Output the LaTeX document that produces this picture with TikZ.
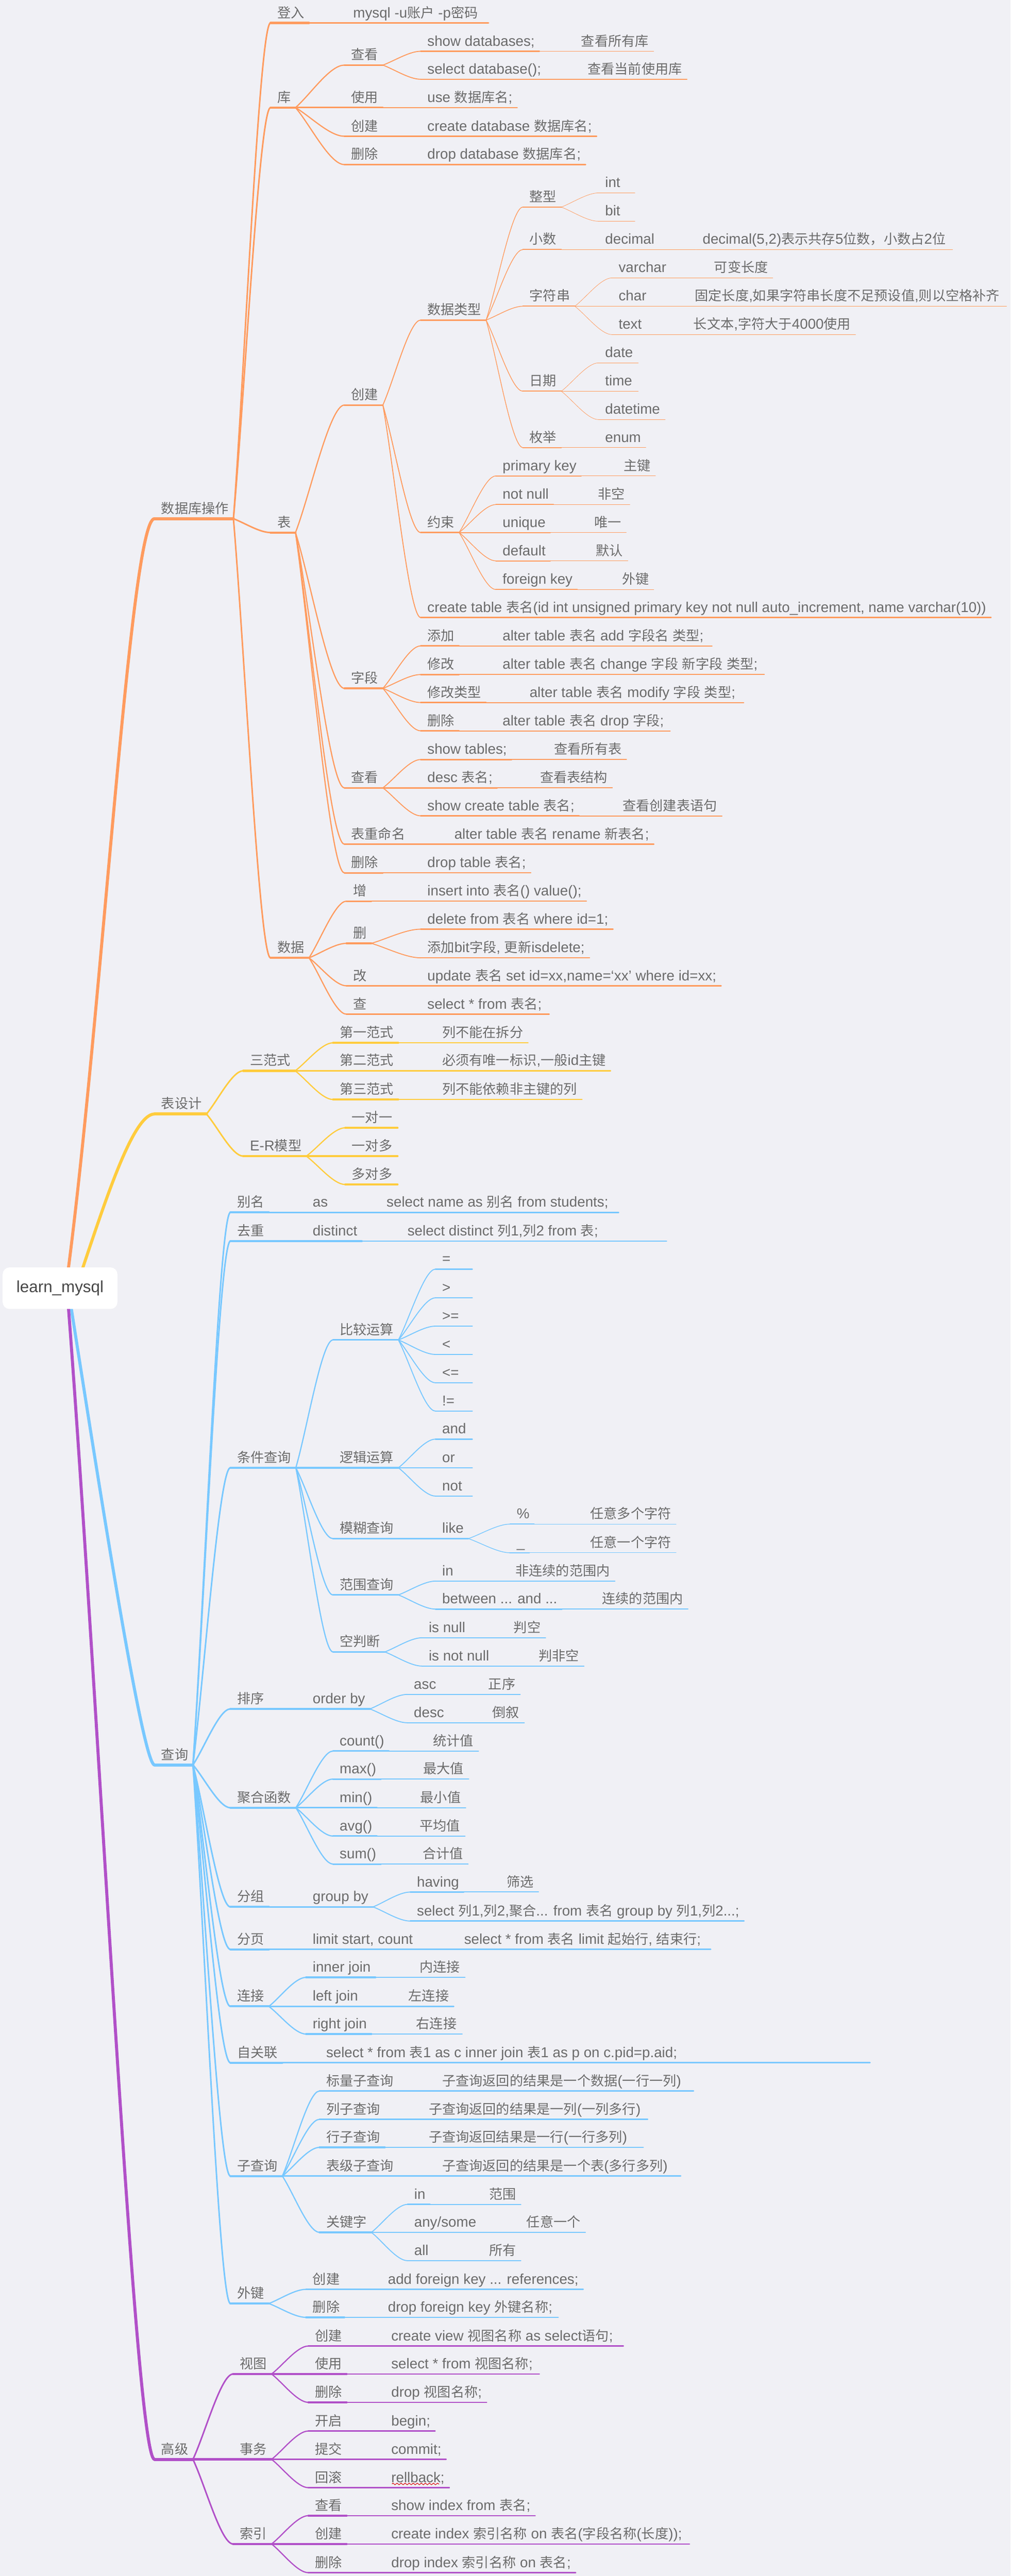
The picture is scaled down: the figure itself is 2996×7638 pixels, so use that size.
\documentclass[tikz,border=0pt]{standalone}
\usepackage{fontspec}
\setmainfont{Liberation Sans}[Scale=1.06]
\newfontfamily\cjkf{Noto Sans CJK SC}
\usetikzlibrary{calc,decorations.pathmorphing}
\XeTeXinterchartokenstate=1
\newXeTeXintercharclass\CJKcls
\newcount\ccnt
\ccnt="4E00
\loop\XeTeXcharclass\ccnt=\CJKcls\relax\advance\ccnt by 1\relax\ifnum\ccnt<"A000 \repeat
\ccnt="3000
\loop\XeTeXcharclass\ccnt=\CJKcls\relax\advance\ccnt by 1\relax\ifnum\ccnt<"3040 \repeat
\ccnt="FF00
\loop\XeTeXcharclass\ccnt=\CJKcls\relax\advance\ccnt by 1\relax\ifnum\ccnt<"FFF0 \repeat
\XeTeXinterchartoks 0 \CJKcls={\cjkf}
\XeTeXinterchartoks 4095 \CJKcls={\cjkf}
\XeTeXinterchartoks \CJKcls 0={\rmfamily}
\XeTeXinterchartoks \CJKcls 4095={\rmfamily}
\definecolor{bgc}{HTML}{F0F0F5}
\definecolor{txtc}{HTML}{6B6B6B}
\definecolor{roottxt}{HTML}{464646}
\definecolor{corange}{HTML}{FF9B5E}
\definecolor{cyellow}{HTML}{FFCC3D}
\definecolor{cblue}{HTML}{78C8FF}
\definecolor{cpurple}{HTML}{B150C8}
\colorlet{brc}{corange}
\def\La{1.6}
\def\Lb{1.25}
\def\Lc{1.0}
\def\Ld{0.75}
\def\Le{0.42}
\def\Lf{0.36}
\tikzset{
  mt/.style={anchor=south west, inner xsep=0pt, inner ysep=0pt, outer sep=0pt,
    text depth=4pt, font=\fontsize{10pt}{12pt}\selectfont, text=txtc},
  rootbox/.style={fill=white, rounded corners=5pt, minimum width=85pt,
    minimum height=30.75pt, inner sep=0pt, font=\fontsize{11.3pt}{14pt}\selectfont, text=roottxt},
  rootline/.style={draw=brc, line width=2.25pt}
}
\newcommand\nr[4]{%
  \node[mt] (#1) at (#2,#3) {#4};
  \coordinate (#1-s) at ([xshift=-5pt]#1.south west);
  \coordinate (#1-e) at ([xshift=3.5pt]#1.south east);
  \draw[brc, line width=2.25pt, line cap=round] (#1-s) -- (#1-e);}
\newcommand\nd[6]{%
  \node[mt] (#1) at (#4,#5) {#6};
  \coordinate (#1-s) at ([xshift=-5pt]#1.south west);
  \coordinate (#1-e) at ([xshift=3.5pt]#1.south east);
  \draw[brc, line width=#3pt, line cap=round] (#1-s) -- (#1-e);
  \draw[brc, line width={0.7*#3pt}] let \p1=(#2-e), \p2=(#1-s) in
    (\p1) .. controls ({\x1+0.3*(\x2-\x1)},{\y1+0.3*(\y2-\y1)}) and ({\x2-0.3*(\x2-\x1)},\y2) .. (\p2);}
\newcommand\nc[6]{%
  \node[mt] (#1) at (#4,#5) {#6};
  \coordinate (#1-s) at ([xshift=-5pt]#1.south west);
  \coordinate (#1-e) at ([xshift=3.5pt]#1.south east);
  \draw[brc, line width=#3pt, line cap=round] (#1-s) -- (#1-e);
  \draw[brc, line width=#3pt] (#2-e) -- (#1-s);}
% extend a leaf underline to the reference length
\newcommand\ext[3]{%
  \coordinate (#1-x) at (#3,0);
  \draw[brc, line width=#2pt, line cap=round] (#1-e) -- (#1-e -| #1-x);}
\begin{document}
\begin{tikzpicture}[x=0.25pt,y=-0.25pt]
\fill[bgc] (0,0) rectangle (2996,7638);
\useasboundingbox (0,0) rectangle (2996,7638);
\coordinate (rootc) at (178,3819.5);

% ---------------- orange: 数据库操作
\colorlet{brc}{corange}
\nr{db}{478}{1538}{数据库操作}
\draw[rootline] ($(rootc)+(17,0)$) .. controls (300,3050) and (385,1538) .. (db-s);
\nd{dl}{db}{\La}{822}{68}{登入}
\nc{dl1}{dl}{\Lb}{1047}{68}{mysql -u账户 -p密码}\ext{dl1}{\Lb}{1448}
\nd{dk}{db}{\La}{822}{319}{库}
\nd{dk1}{dk}{\Lb}{1041}{193}{查看}
\nd{dk1a}{dk1}{\Lc}{1267}{152}{show databases;}
\nc{dk1a1}{dk1a}{\Ld}{1723}{152}{查看所有库}\ext{dk1a1}{\Ld}{1934}
\nd{dk1b}{dk1}{\Lc}{1267}{235}{select database();}
\nc{dk1b1}{dk1b}{\Ld}{1742}{235}{查看当前使用库}\ext{dk1b1}{\Ld}{2035}
\nc{dk2}{dk}{\Lb}{1041}{319}{使用}
\nc{dk2a}{dk2}{\Lc}{1267}{319}{use 数据库名;}\ext{dk2a}{\Lc}{1528}
\nd{dk3}{dk}{\Lb}{1041}{404}{创建}
\nc{dk3a}{dk3}{\Lc}{1267}{404}{create database 数据库名;}\ext{dk3a}{\Lc}{1765}
\nd{dk4}{dk}{\Lb}{1041}{488}{删除}
\nc{dk4a}{dk4}{\Lc}{1267}{488}{drop database 数据库名;}\ext{dk4a}{\Lc}{1733}
\nd{dt}{db}{\La}{822}{1579}{表}
\nd{dt1}{dt}{\Lb}{1041}{1201}{创建}
\nd{dt1a}{dt1}{\Lc}{1267}{949}{数据类型}
\nd{ty1}{dt1a}{\Ld}{1570}{614}{整型}
\nd{ty1a}{ty1}{\Le}{1794}{572}{int}\ext{ty1a}{\Le}{1882}
\nd{ty1b}{ty1}{\Le}{1794}{656}{bit}\ext{ty1b}{\Le}{1882}
\nd{ty2}{dt1a}{\Ld}{1570}{740}{小数}
\nc{ty2a}{ty2}{\Le}{1794}{740}{decimal}
\nc{ty2b}{ty2a}{\Lf}{2083}{740}{decimal(5,2)表示共存5位数，小数占2位}\ext{ty2b}{\Lf}{2824}
\nd{ty3}{dt1a}{\Ld}{1570}{908}{字符串}
\nd{ty3a}{ty3}{\Le}{1834}{824}{varchar}
\nc{ty3a1}{ty3a}{\Lf}{2117}{824}{可变长度}\ext{ty3a1}{\Lf}{2289}
\nc{ty3b}{ty3}{\Le}{1834}{908}{char}
\nc{ty3b1}{ty3b}{\Lf}{2060}{908}{固定长度,如果字符串长度不足预设值,则以空格补齐}\ext{ty3b1}{\Lf}{2984}
\nd{ty3c}{ty3}{\Le}{1834}{992}{text}
\nc{ty3c1}{ty3c}{\Lf}{2056}{992}{长文本,字符大于4000使用}\ext{ty3c1}{\Lf}{2533}
\nd{ty4}{dt1a}{\Ld}{1570}{1160}{日期}
\nd{ty4a}{ty4}{\Le}{1794}{1076}{date}\ext{ty4a}{\Le}{1892}
\nc{ty4b}{ty4}{\Le}{1794}{1160}{time}\ext{ty4b}{\Le}{1892}
\nd{ty4c}{ty4}{\Le}{1794}{1244}{datetime}\ext{ty4c}{\Le}{1972}
\nd{ty5}{dt1a}{\Ld}{1570}{1327}{枚举}
\nc{ty5a}{ty5}{\Le}{1794}{1327}{enum}\ext{ty5a}{\Le}{1907}
\nd{dt1b}{dt1}{\Lc}{1267}{1579}{约束}
\nd{cs1}{dt1b}{\Ld}{1490}{1411}{primary key}
\nc{cs1a}{cs1}{\Le}{1849}{1411}{主键}\ext{cs1a}{\Le}{1941}
\nd{cs2}{dt1b}{\Ld}{1490}{1496}{not null}
\nc{cs2a}{cs2}{\Le}{1773}{1496}{非空}\ext{cs2a}{\Le}{1863}
\nc{cs3}{dt1b}{\Ld}{1490}{1579}{unique}
\nc{cs3a}{cs3}{\Le}{1762}{1579}{唯一}\ext{cs3a}{\Le}{1849}
\nd{cs4}{dt1b}{\Ld}{1490}{1663}{default}
\nc{cs4a}{cs4}{\Le}{1767}{1663}{默认}\ext{cs4a}{\Le}{1855}
\nd{cs5}{dt1b}{\Ld}{1490}{1748}{foreign key}
\nc{cs5a}{cs5}{\Le}{1844}{1748}{外键}\ext{cs5a}{\Le}{1934}
\nd{dt1c}{dt1}{\Lc}{1267}{1831}{create table 表名(id int unsigned primary key not null auto\_increment, name varchar(10))}\ext{dt1c}{\Lc}{2923}
\nd{dt2}{dt}{\Lb}{1041}{2041}{字段}
\nd{dt2a}{dt2}{\Lc}{1267}{1915}{添加}
\nc{dt2a1}{dt2a}{\Ld}{1490}{1915}{alter table 表名 add 字段名 类型;}\ext{dt2a1}{\Ld}{2111}
\nd{dt2b}{dt2}{\Lc}{1267}{2000}{修改}
\nc{dt2b1}{dt2b}{\Ld}{1490}{2000}{alter table 表名 change 字段 新字段 类型;}\ext{dt2b1}{\Ld}{2266}
\nd{dt2c}{dt2}{\Lc}{1267}{2083}{修改类型}
\nc{dt2c1}{dt2c}{\Ld}{1570}{2083}{alter table 表名 modify 字段 类型;}\ext{dt2c1}{\Ld}{2205}
\nd{dt2d}{dt2}{\Lc}{1267}{2167}{删除}
\nc{dt2d1}{dt2d}{\Ld}{1490}{2167}{alter table 表名 drop 字段;}\ext{dt2d1}{\Ld}{1987}
\nd{dt3}{dt}{\Lb}{1041}{2336}{查看}
\nd{dt3a}{dt3}{\Lc}{1267}{2252}{show tables;}
\nc{dt3a1}{dt3a}{\Ld}{1643}{2252}{查看所有表}\ext{dt3a1}{\Ld}{1853}
\nc{dt3b}{dt3}{\Lc}{1267}{2336}{desc 表名;}
\nc{dt3b1}{dt3b}{\Ld}{1601}{2336}{查看表结构}\ext{dt3b1}{\Ld}{1811}
\nd{dt3c}{dt3}{\Lc}{1267}{2419}{show create table 表名;}
\nc{dt3c1}{dt3c}{\Ld}{1846}{2419}{查看创建表语句}\ext{dt3c1}{\Ld}{2136}
\nd{dt4}{dt}{\Lb}{1041}{2503}{表重命名}
\nc{dt4a}{dt4}{\Lc}{1347}{2503}{alter table 表名 rename 新表名;}\ext{dt4a}{\Lc}{1935}
\nd{dt5}{dt}{\Lb}{1041}{2588}{删除}
\nc{dt5a}{dt5}{\Lc}{1267}{2588}{drop table 表名;}\ext{dt5a}{\Lc}{1570}
\nd{dd}{db}{\La}{822}{2840}{数据}
\nd{dd1}{dd}{\Lb}{1047}{2672}{增}
\nc{dd1a}{dd1}{\Lc}{1267}{2672}{insert into 表名() value();}\ext{dd1a}{\Lc}{1733}
\nd{dd2}{dd}{\Lb}{1047}{2797}{删}
\nd{dd2a}{dd2}{\Lc}{1267}{2755}{delete from 表名 where id=1;}\ext{dd2a}{\Lc}{1807}
\nd{dd2b}{dd2}{\Lc}{1267}{2840}{添加bit字段, 更新isdelete;}\ext{dd2b}{\Lc}{1746}
\nd{dd3}{dd}{\Lb}{1047}{2923}{改}
\nc{dd3a}{dd3}{\Lc}{1267}{2923}{update 表名 set id=xx,name=‘xx’ where id=xx;}\ext{dd3a}{\Lc}{2134}
\nd{dd4}{dd}{\Lb}{1047}{3007}{查}
\nc{dd4a}{dd4}{\Lc}{1267}{3007}{select * from 表名;}\ext{dd4a}{\Lc}{1628}

% ---------------- yellow: 表设计
\colorlet{brc}{cyellow}
\nr{ts}{478}{3303}{表设计}
\draw[rootline] ($(rootc)+(47,0)$) .. controls (300,3600) and (390,3303) .. (ts-s);
\nd{ts1}{ts}{\La}{741}{3175}{三范式}
\nd{ts1a}{ts1}{\Lb}{1007}{3092}{第一范式}
\nc{ts1a1}{ts1a}{\Lc}{1311}{3092}{列不能在拆分}\ext{ts1a1}{\Lc}{1563}
\nc{ts1b}{ts1}{\Lb}{1007}{3175}{第二范式}
\nc{ts1b1}{ts1b}{\Lc}{1311}{3175}{必须有唯一标识,一般id主键}\ext{ts1b1}{\Lc}{1807}
\nd{ts1c}{ts1}{\Lb}{1007}{3260}{第三范式}
\nc{ts1c1}{ts1c}{\Lc}{1311}{3260}{列不能依赖非主键的列}\ext{ts1c1}{\Lc}{1723}
\nd{ts2}{ts}{\La}{741}{3428}{E-R模型}
\nd{ts2a}{ts2}{\Lb}{1043}{3344}{一对一}\ext{ts2a}{\Lb}{1179}
\nc{ts2b}{ts2}{\Lb}{1043}{3428}{一对多}\ext{ts2b}{\Lb}{1179}
\nd{ts2c}{ts2}{\Lb}{1043}{3512}{多对多}\ext{ts2c}{\Lb}{1179}

% ---------------- blue: 查询
\colorlet{brc}{cblue}
\nr{q}{478}{5233}{查询}
\draw[rootline] ($(rootc)+(27,20)$) .. controls (270,4250) and (420,5233) .. (q-s);
\nd{q1}{q}{\La}{703}{3595}{别名}
\nc{q1a}{q1}{\Lb}{927}{3595}{as}
\nc{q1b}{q1a}{\Lc}{1146}{3595}{select name as 别名 from students;}\ext{q1b}{\Lc}{1834}
\nd{q2}{q}{\La}{703}{3680}{去重}
\nc{q2a}{q2}{\Lb}{927}{3680}{distinct}
\nc{q2b}{q2a}{\Lc}{1208}{3680}{select distinct 列1,列2 from 表;}\ext{q2b}{\Lc}{1976}
\nd{q3}{q}{\La}{703}{4352}{条件查询}
\nd{q3a}{q3}{\Lb}{1007}{3973}{比较运算}
\nd{q3a1}{q3a}{\Lc}{1311}{3763}{=}\ext{q3a1}{\Lc}{1400}
\nd{q3a2}{q3a}{\Lc}{1311}{3848}{>}\ext{q3a2}{\Lc}{1400}
\nd{q3a3}{q3a}{\Lc}{1311}{3932}{>=}\ext{q3a3}{\Lc}{1400}
\nd{q3a4}{q3a}{\Lc}{1311}{4016}{<}\ext{q3a4}{\Lc}{1400}
\nd{q3a5}{q3a}{\Lc}{1311}{4100}{<=}\ext{q3a5}{\Lc}{1400}
\nd{q3a6}{q3a}{\Lc}{1311}{4184}{!=}\ext{q3a6}{\Lc}{1400}
\nc{q3b}{q3}{\Lb}{1007}{4352}{逻辑运算}
\nd{q3b1}{q3b}{\Lc}{1311}{4267}{and}\ext{q3b1}{\Lc}{1400}
\nc{q3b2}{q3b}{\Lc}{1311}{4352}{or}\ext{q3b2}{\Lc}{1400}
\nd{q3b3}{q3b}{\Lc}{1311}{4436}{not}\ext{q3b3}{\Lc}{1400}
\nd{q3c}{q3}{\Lb}{1007}{4562}{模糊查询}
\nc{q3c1}{q3c}{\Lc}{1311}{4562}{like}
\nd{q3c1a}{q3c1}{\Ld}{1532}{4519}{\%}
\nc{q3c1a1}{q3c1a}{\Le}{1750}{4519}{任意多个字符}\ext{q3c1a1}{\Le}{2000}
\nd{q3c1b}{q3c1}{\Ld}{1532}{4604}{\_}
\nc{q3c1b1}{q3c1b}{\Le}{1750}{4604}{任意一个字符}\ext{q3c1b1}{\Le}{2000}
\nd{q3d}{q3}{\Lb}{1007}{4729}{范围查询}
\nd{q3d1}{q3d}{\Lc}{1311}{4688}{in}
\nc{q3d1a}{q3d1}{\Ld}{1528}{4688}{非连续的范围内}\ext{q3d1a}{\Ld}{1823}
\nd{q3d2}{q3d}{\Lc}{1311}{4771}{between ... and ...}
\nc{q3d2a}{q3d2}{\Ld}{1785}{4771}{连续的范围内}\ext{q3d2a}{\Ld}{2037}
\nd{q3e}{q3}{\Lb}{1007}{4898}{空判断}
\nd{q3e1}{q3e}{\Lc}{1271}{4856}{is null}
\nc{q3e1a}{q3e1}{\Ld}{1523}{4856}{判空}\ext{q3e1a}{\Ld}{1614}
\nd{q3e2}{q3e}{\Lc}{1271}{4940}{is not null}
\nc{q3e2a}{q3e2}{\Ld}{1597}{4940}{判非空}\ext{q3e2a}{\Ld}{1729}
\nd{q4}{q}{\La}{703}{5067}{排序}
\nc{q4a}{q4}{\Lb}{927}{5067}{order by}
\nd{q4a1}{q4a}{\Lc}{1227}{5024}{asc}
\nc{q4a1a}{q4a1}{\Ld}{1448}{5024}{正序}\ext{q4a1a}{\Ld}{1538}
\nd{q4a2}{q4a}{\Lc}{1227}{5108}{desc}
\nc{q4a2a}{q4a2}{\Ld}{1460}{5108}{倒叙}\ext{q4a2a}{\Ld}{1550}
\nd{q5}{q}{\La}{703}{5360}{聚合函数}
\nd{q5a}{q5}{\Lb}{1007}{5192}{count()}
\nc{q5a1}{q5a}{\Lc}{1284}{5192}{统计值}\ext{q5a1}{\Lc}{1414}
\nd{q5b}{q5}{\Lb}{1007}{5275}{max()}
\nc{q5b1}{q5b}{\Lc}{1255}{5275}{最大值}\ext{q5b1}{\Lc}{1387}
\nc{q5c}{q5}{\Lb}{1007}{5360}{min()}
\nc{q5c1}{q5c}{\Lc}{1246}{5360}{最小值}\ext{q5c1}{\Lc}{1378}
\nd{q5d}{q5}{\Lb}{1007}{5444}{avg()}
\nc{q5d1}{q5d}{\Lc}{1244}{5444}{平均值}\ext{q5d1}{\Lc}{1376}
\nd{q5e}{q5}{\Lb}{1007}{5527}{sum()}
\nc{q5e1}{q5e}{\Lc}{1253}{5527}{合计值}\ext{q5e1}{\Lc}{1387}
\nd{q6}{q}{\La}{703}{5654}{分组}
\nc{q6a}{q6}{\Lb}{927}{5654}{group by}
\nd{q6a1}{q6a}{\Lc}{1236}{5610}{having}
\nc{q6a1a}{q6a1}{\Ld}{1502}{5610}{筛选}\ext{q6a1a}{\Ld}{1593}
\nd{q6a2}{q6a}{\Lc}{1236}{5696}{select 列1,列2,聚合... from 表名 group by 列1,列2...;}\ext{q6a2}{\Lc}{2191}
\nd{q7}{q}{\La}{703}{5780}{分页}
\nc{q7a}{q7}{\Lb}{927}{5780}{limit start, count}
\nc{q7b}{q7a}{\Lc}{1376}{5780}{select * from 表名 limit 起始行, 结束行;}\ext{q7b}{\Lc}{2107}
\nd{q8}{q}{\La}{703}{5949}{连接}
\nd{q8a}{q8}{\Lb}{927}{5863}{inner join}
\nc{q8a1}{q8a}{\Lc}{1244}{5863}{内连接}\ext{q8a1}{\Lc}{1376}
\nc{q8b}{q8}{\Lb}{927}{5949}{left join}
\nc{q8b1}{q8b}{\Lc}{1211}{5949}{左连接}\ext{q8b1}{\Lc}{1345}
\nd{q8c}{q8}{\Lb}{927}{6031}{right join}
\nc{q8c1}{q8c}{\Lc}{1234}{6031}{右连接}\ext{q8c1}{\Lc}{1370}
\nd{q9}{q}{\La}{703}{6116}{自关联}
\nc{q9a}{q9}{\Lb}{967}{6116}{select * from 表1 as c inner join 表1 as p on c.pid=p.aid;}\ext{q9a}{\Lb}{2579}
\nd{q10}{q}{\La}{703}{6452}{子查询}
\nd{q10a}{q10}{\Lb}{967}{6200}{标量子查询}
\nc{q10a1}{q10a}{\Lc}{1311}{6200}{子查询返回的结果是一个数据(一行一列)}\ext{q10a1}{\Lc}{2056}
\nd{q10b}{q10}{\Lb}{967}{6284}{列子查询}
\nc{q10b1}{q10b}{\Lc}{1271}{6284}{子查询返回的结果是一列(一列多行)}\ext{q10b1}{\Lc}{1920}
\nd{q10c}{q10}{\Lb}{967}{6367}{行子查询}
\nc{q10c1}{q10c}{\Lc}{1271}{6367}{子查询返回结果是一行(一行多列)}\ext{q10c1}{\Lc}{1907}
\nc{q10d}{q10}{\Lb}{967}{6452}{表级子查询}
\nc{q10d1}{q10d}{\Lc}{1311}{6452}{子查询返回的结果是一个表(多行多列)}\ext{q10d1}{\Lc}{2018}
\nd{q10e}{q10}{\Lb}{967}{6619}{关键字}
\nd{q10e1}{q10e}{\Lc}{1228}{6536}{in}
\nc{q10e1a}{q10e1}{\Ld}{1450}{6536}{范围}\ext{q10e1a}{\Ld}{1542}
\nc{q10e2}{q10e}{\Lc}{1228}{6619}{any/some}
\nc{q10e2a}{q10e2}{\Ld}{1561}{6619}{任意一个}\ext{q10e2a}{\Ld}{1733}
\nd{q10e3}{q10e}{\Lc}{1228}{6703}{all}
\nc{q10e3a}{q10e3}{\Ld}{1450}{6703}{所有}\ext{q10e3a}{\Ld}{1542}
\nd{q11}{q}{\La}{703}{6830}{外键}
\nd{q11a}{q11}{\Lb}{927}{6788}{创建}
\nc{q11a1}{q11a}{\Lc}{1150}{6788}{add foreign key ... references;}\ext{q11a1}{\Lc}{1721}
\nd{q11b}{q11}{\Lb}{927}{6871}{删除}
\nc{q11b1}{q11b}{\Lc}{1150}{6871}{drop foreign key 外键名称;}\ext{q11b1}{\Lc}{1655}

% ---------------- purple: 高级
\colorlet{brc}{cpurple}
\nr{h}{478}{7292}{高级}
\draw[rootline] ($(rootc)+(22,20)$) .. controls (290,5000) and (400,7292) .. (h-s);
\nd{h1}{h}{\La}{711}{7039}{视图}
\nd{h1a}{h1}{\Lb}{934}{6956}{创建}
\nc{h1a1}{h1a}{\Lc}{1160}{6956}{create view 视图名称 as select语句;}\ext{h1a1}{\Lc}{1848}
\nc{h1b}{h1}{\Lb}{934}{7039}{使用}
\nc{h1b1}{h1b}{\Lc}{1160}{7039}{select * from 视图名称;}\ext{h1b1}{\Lc}{1599}
\nd{h1c}{h1}{\Lb}{934}{7123}{删除}
\nc{h1c1}{h1c}{\Lc}{1160}{7123}{drop 视图名称;}\ext{h1c1}{\Lc}{1441}
\nc{h2}{h}{\La}{711}{7292}{事务}
\nd{h2a}{h2}{\Lb}{934}{7208}{开启}
\nc{h2a1}{h2a}{\Lc}{1160}{7208}{begin;}\ext{h2a1}{\Lc}{1286}
\nc{h2b}{h2}{\Lb}{934}{7292}{提交}
\nc{h2b1}{h2b}{\Lc}{1160}{7292}{commit;}\ext{h2b1}{\Lc}{1320}
\nd{h2c}{h2}{\Lb}{934}{7376}{回滚}
\nc{h2c1}{h2c}{\Lc}{1160}{7376}{rellback;}\ext{h2c1}{\Lc}{1328}
\draw[red!85!black, line width=0.4pt, decorate, decoration={zigzag, segment length=3pt, amplitude=0.6pt}]
  ($(h2c1.south west)+(2,-11)$) -- ($(h2c1.south west)+(142,-11)$);
\nd{h3}{h}{\La}{711}{7543}{索引}
\nd{h3a}{h3}{\Lb}{934}{7459}{查看}
\nc{h3a1}{h3a}{\Lc}{1160}{7459}{show index from 表名;}\ext{h3a1}{\Lc}{1586}
\nc{h3b}{h3}{\Lb}{934}{7543}{创建}
\nc{h3b1}{h3b}{\Lc}{1160}{7543}{create index 索引名称 on 表名(字段名称(长度));}\ext{h3b1}{\Lc}{2044}
\nd{h3c}{h3}{\Lb}{934}{7628}{删除}
\nc{h3c1}{h3c}{\Lc}{1160}{7628}{drop index 索引名称 on 表名;}\ext{h3c1}{\Lc}{1704}

% ---------------- root
\node[rootbox] (root) at (rootc) {learn\_mysql};
\end{tikzpicture}
\end{document}
